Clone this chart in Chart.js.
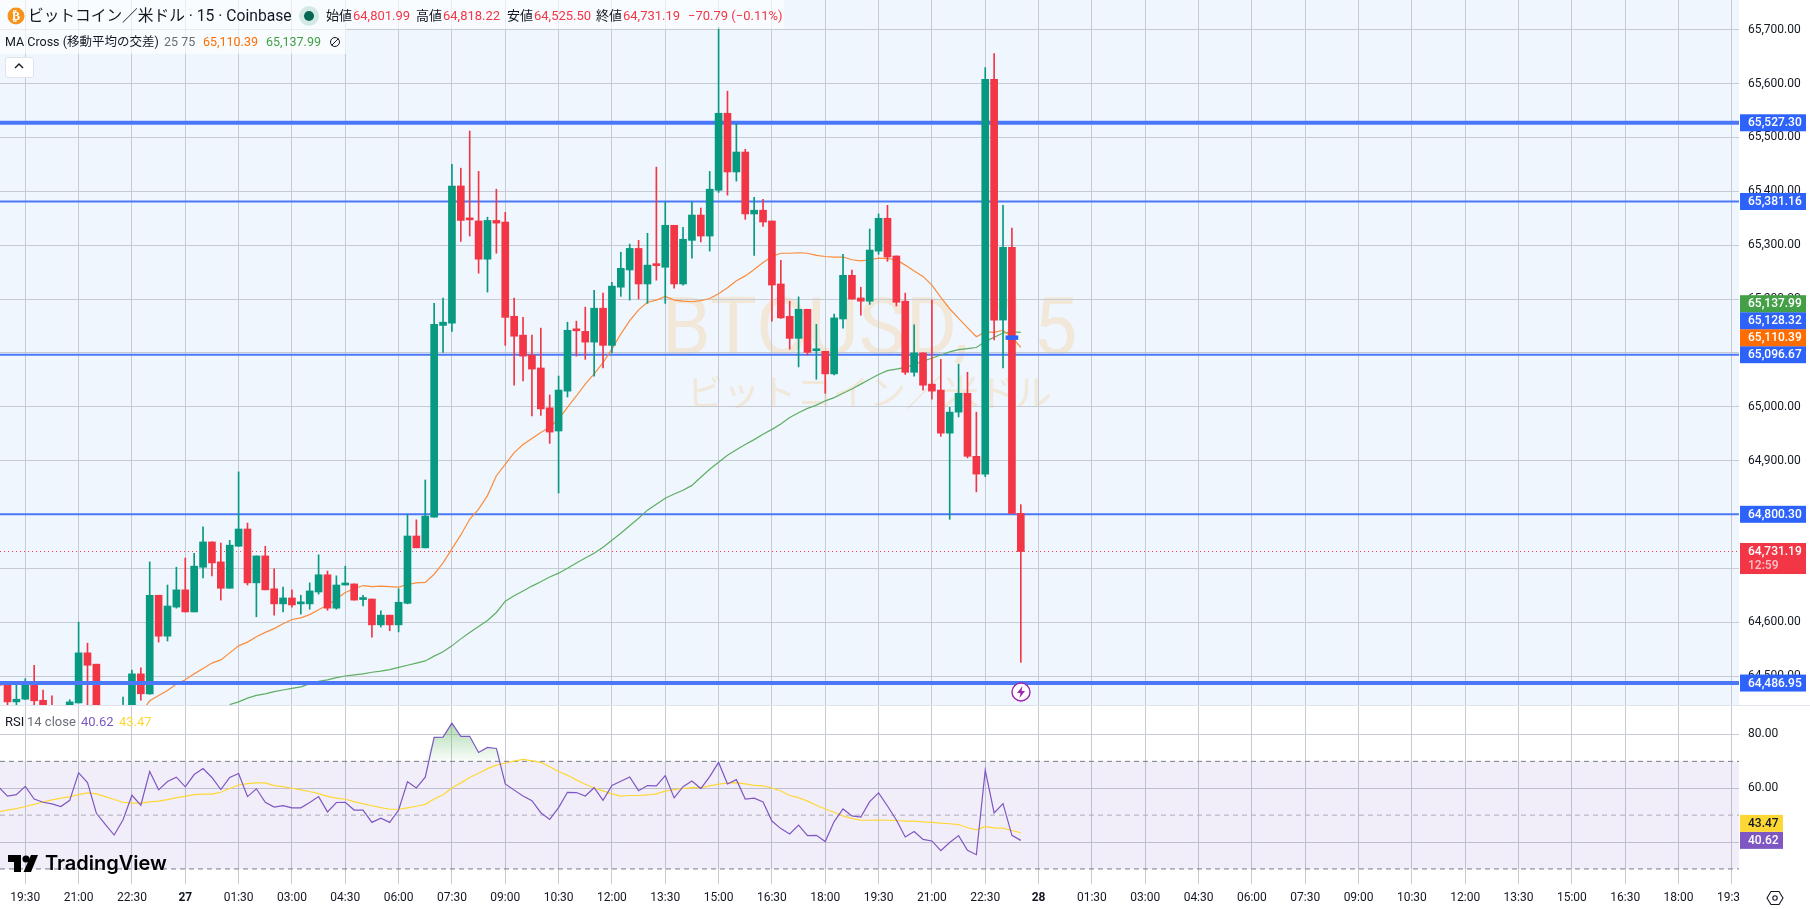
<!DOCTYPE html>
<html>
<head>
<meta charset="utf-8">
<title>BTCUSD 15</title>
<script src="https://cdn.jsdelivr.net/npm/chart.js@4"></script>
<style>
html, body { margin: 0; padding: 0; background: #fff; width: 1810px; height: 909px; overflow: hidden; }
body { font-family: Roboto, "Noto Sans CJK JP", sans-serif; color: #131722; position: relative; }
div, span, svg, canvas { position: absolute; }
span { white-space: nowrap; }
#pane { left: 0; top: 0; width: 1739px; height: 705px; background: #eff6fe; overflow: hidden; }
#wm1 { left: 0; width: 1739px; top: 278px; text-align: center; font-size: 79px; line-height: 98px; color: #f1e8da; }
#wm2 { left: 0; width: 1739px; top: 371px; text-align: center; font-size: 36.5px; line-height: 46px; color: #f1e8da; }
#mainChart { left: 0; top: 0; }
#rsiChart { left: 0; top: 705px; }
#sep { left: 0; top: 705px; width: 1810px; height: 1px; background: #e0e3eb; }
.legendBg { background: rgba(255,255,255,0.62); }
.row1 { font-size: 13px; line-height: 16px; top: 8px; }
.row2 { font-size: 12.5px; line-height: 16px; top: 34px; }
.red { color: #f23645; }
#rsiLegend span { font-size: 13px; line-height: 16px; top: 714px; }
#corner { left: 1739px; top: 885px; width: 71px; height: 24px; background: #fff; }
</style>
</head>
<body>
<div id="pane">
  <div id="wm1">BTCUSD, 15</div>
  <div id="wm2">ビットコイン／米ドル</div>
</div>
<canvas id="mainChart" width="1810" height="705"></canvas>
<canvas id="rsiChart" width="1810" height="204"></canvas>
<div id="sep"></div>

<div class="legendBg" style="left:0;top:0;width:784px;height:29px"></div>
<div class="legendBg" style="left:0;top:29px;width:346px;height:25px"></div>
<svg style="left:7px;top:7px" width="18" height="18" viewBox="0 0 18 18"><circle cx="9" cy="9" r="8.5" fill="#f7931a"/><text x="9" y="13" font-size="12" font-weight="700" fill="#fff" text-anchor="middle" font-family="DejaVu Sans">₿</text></svg>
<span style="left:28px;top:6px;font-size:15.7px;line-height:20px">ビットコイン／米ドル · 15 · Coinbase</span>
<svg style="left:299px;top:6px" width="20" height="20"><circle cx="10" cy="10" r="10" fill="#d3e9e5"/><circle cx="10" cy="10" r="5" fill="#056656"/></svg>
<span class="row1" style="left:326px">始値</span><span class="row1 red" style="left:353px">64,801.99</span>
<span class="row1" style="left:416px">高値</span><span class="row1 red" style="left:443px">64,818.22</span>
<span class="row1" style="left:507px">安値</span><span class="row1 red" style="left:534px">64,525.50</span>
<span class="row1" style="left:596px">終値</span><span class="row1 red" style="left:623px">64,731.19</span>
<span class="row1 red" style="left:688px">−70.79 (−0.11%)</span>
<span class="row2" style="left:5px">MA Cross (移動平均の交差)</span>
<span class="row2" style="left:164px;color:#6a6d78">25 75</span>
<span class="row2" style="left:203px;color:#ff6d00">65,110.39</span>
<span class="row2" style="left:266px;color:#43a047">65,137.99</span>
<svg style="left:329px;top:36px" width="12" height="12"><circle cx="6" cy="6" r="4.5" fill="none" stroke="#131722"/><line x1="2.5" y1="9.5" x2="9.5" y2="2.5" stroke="#131722"/></svg>
<div style="left:5px;top:57px;width:27px;height:19px;background:#fff;border:1px solid #e0e3eb;border-radius:3px"></div>
<svg style="left:14px;top:62px" width="10" height="8"><polyline points="1,6 5,2 9,6" fill="none" stroke="#131722" stroke-width="1.4"/></svg>

<svg style="left:1011px;top:682px" width="20" height="20" viewBox="0 0 20 20"><circle cx="10" cy="10" r="9" fill="#fff" stroke="#9c27b0" stroke-width="1.4"/><polygon points="11.5,4 6,11 9.5,11 8.5,16 14,9 10.5,9" fill="#9c27b0"/></svg>

<div id="rsiLegend">
  <span style="left:5px">RSI</span>
  <span style="left:27px;color:#6a6d78">14 close</span>
  <span style="left:81px;color:#7e57c2">40.62</span>
  <span style="left:119px;color:#fdd835">43.47</span>
</div>

<svg style="left:8px;top:855px" width="30" height="17" viewBox="0 0 30 17"><path d="M0 0H13V17H6V7H0Z" fill="#000"/><circle cx="18" cy="4" r="3.6" fill="#000"/><path d="M23 0H30L23 17H15.5Z" fill="#000"/></svg>
<span style="left:45px;top:850px;font-family:Inter,Roboto,sans-serif;font-weight:600;font-size:20px;line-height:26px;color:#000">TradingView</span>

<div id="corner"></div>
<svg style="left:1766px;top:889px" width="18" height="18" viewBox="0 0 18 18"><polygon points="5,2.5 13,2.5 17,9 13,15.5 5,15.5 1,9" fill="none" stroke="#131722" stroke-width="1.1"/><circle cx="9" cy="9" r="2.2" fill="none" stroke="#131722" stroke-width="1.1"/></svg>

<script>
// candles, first entry sits half off the left edge
const opens = [64486,
  64483,64452,64457,64487,64455,64430,64410,64420,64450,
  64543,64522,64425,64410,64420,64440,64504,64467,64650,64574,
  64628,64660,64619,64702,64749,64712,64663,64741,64773,64673,
  64723,64662,64634,64645,64634,64634,64656,64688,64626,64669,
  64671,64642,64643,64595,64613,64595,64635,64760,64738,64795,
  65151,65155,65410,65348,65345,65274,65346,65343,65168,65133,
  65096,65072,64998,64955,65029,65142,65140,65120,65183,65114,
  65222,65254,65294,65228,65263,65259,65337,65228,65309,65356,
  65317,65402,65545,65436,65473,65358,65365,65345,65228,65168,
  65127,65181,65104,65103,65061,65163,65244,65202,65196,65289,
  65350,65280,65196,65064,65100,65042,65031,64951,64990,65025,
  64908,64875,65608,65161,65296,64801.99]
const closes = [64483,
  64452,64457,64487,64454,64430,64410,64405,64452,64543,
  64520,64425,64410,64420,64440,64504,64467,64650,64574,64630,
  64660,64619,64704,64749,64710,64663,64743,64773,64673,64723,
  64660,64634,64645,64632,64635,64658,64688,64626,64669,64671,
  64641,64643,64595,64613,64595,64637,64760,64738,64797,65153,
  65157,65410,65346,65347,65274,65346,65341,65166,65131,65094,
  65070,64996,64953,65031,65142,65141,65120,65183,65114,65224,
  65257,65294,65228,65263,65262,65337,65228,65311,65356,65317,
  65404,65545,65436,65473,65358,65365,65343,65226,65165,65127,
  65181,65101,65105,65061,65165,65244,65200,65196,65291,65350,
  65278,65194,65064,65100,65040,65029,64951,64990,65025,64908,
  64875,65608,65161,65296,64802,64731.19]
const highs = [64490,
  64486,64485,64495,64520,64474,64463,64430,64456,64600,
  64561,64522,64435,64430,64461,64511,64515,64712,64650,64669,
  64702,64719,64728,64777,64749,64747,64752,64879,64784,64723,
  64741,64699,64665,64660,64650,64673,64725,64695,64686,64704,
  64671,64650,64643,64621,64613,64662,64799,64790,64864,65192,
  65202,65450,65443,65512,65437,65352,65404,65361,65202,65166,
  65133,65146,65022,65057,65157,65159,65185,65216,65211,65231,
  65287,65302,65309,65322,65445,65380,65337,65333,65380,65369,
  65437,65704,65586,65526,65478,65389,65385,65345,65272,65196,
  65204,65181,65153,65103,65172,65283,65254,65222,65330,65358,
  65374,65280,65211,65152,65100,65198,65088,64999,65079,65064,
  64990,65630,65656,65374,65332,64818.22]
const lows = [64470,
  64440,64440,64456,64440,64420,64400,64395,64410,64450,
  64440,64420,64400,64400,64410,64435,64455,64466,64563,64565,
  64626,64619,64619,64682,64686,64641,64663,64741,64669,64610,
  64660,64613,64619,64628,64615,64624,64652,64622,64624,64669,
  64641,64630,64572,64591,64584,64582,64634,64738,64738,64795,
  65101,65140,65307,65317,65248,65213,65285,65114,65040,65048,
  64983,64984,64932,64840,65018,65094,65088,65057,65072,65100,
  65205,65198,65200,65192,65235,65192,65220,65226,65276,65306,
  65289,65398,65393,65419,65348,65281,65335,65159,65164,65107,
  65074,65096,65051,65025,65059,65146,65200,65170,65190,65283,
  65270,65187,65060,65057,65031,65014,64945,64791,64981,64905,
  64842,64870,65124,65072,64802,64525.5]

// moving averages, they begin further along the candles
const ma25Start = 16
const ma25 = [64431,
  64454,64464,64473,64485,64493,64504,64514,64524,64530,64543,
  64556,64563,64573,64581,64588,64597,64605,64608,64614,64623,
  64632,64643,64655,64662,64668,64666,64667,64666,64665,64670,
  64673,64674,64689,64710,64736,64762,64791,64810,64835,64872,
  64893,64915,64930,64941,64952,64962,64977,64999,65020,65042,
  65061,65082,65107,65135,65160,65180,65194,65198,65205,65198,
  65196,65195,65197,65201,65210,65221,65234,65243,65255,65268,
  65279,65285,65285,65286,65285,65281,65279,65278,65278,65273,
  65271,65273,65276,65275,65273,65263,65252,65242,65226,65203,
  65182,65164,65147,65130,65139,65138,65142,65129,65110.39]
const ma75Start = 26
const ma75 = [64447,
  64452,64459,64464,64467,64471,64474,64477,64480,64486,64490,
  64493,64497,64500,64502,64504,64507,64509,64512,64516,64520,
  64524,64528,64537,64545,64556,64569,64581,64592,64603,64618,
  64639,64649,64658,64667,64675,64684,64691,64700,64710,64719,
  64728,64739,64752,64765,64779,64793,64808,64819,64830,64838,
  64845,64854,64869,64884,64897,64910,64920,64930,64939,64949,
  64958,64968,64980,64989,64997,65003,65011,65017,65025,65033,
  65042,65051,65060,65067,65070,65073,65078,65085,65090,65096,
  65102,65106,65108,65110,65121,65129,65137,65139,65137.99]

// RSI pane, one value per candle
const rsi = [60.5,
  57.1,57.6,60.7,56.0,54.8,54.2,53.2,55.5,65.7,62.1,
  50.7,46.6,42.6,48.3,57.4,53.7,66.2,59.4,62.5,64.1,
  60.5,65.1,67.3,64.0,59.5,64.0,65.5,56.9,59.8,54.8,
  53.0,53.5,52.7,52.7,54.7,56.9,51.2,54.7,54.8,51.9,
  51.9,47.3,48.9,47.3,51.9,62.4,60.1,64.1,78.9,79.0,
  84.2,79.3,79.3,73.3,75.2,74.8,61.6,59.3,57.1,55.4,
  50.9,48.4,52.8,58.5,58.4,57.1,60.2,55.5,61.0,62.6,
  64.2,59.1,61.0,60.9,64.7,56.4,60.6,62.7,59.9,64.3,
  69.6,61.6,63.2,56.0,56.3,54.9,47.8,45.0,43.0,46.3,
  42.4,42.5,40.2,47.6,52.3,49.7,49.3,55.0,58.3,53.4,
  48.2,41.9,43.9,41.0,40.4,36.8,39.8,42.4,36.9,35.3,
  66.7,50.8,54.3,42.5,40.62]
const rsiMa = [51.2,
  51.9,52.4,53.2,54.0,54.9,55.7,56.3,56.8,57.6,58.3,
  57.9,56.9,55.8,54.8,54.5,54.5,54.9,55.2,55.8,56.5,
  57.0,57.6,57.8,57.8,58.5,59.9,61.2,61.7,62.0,62.0,
  61.0,60.6,60.0,59.4,58.8,58.0,57.0,56.3,55.9,55.0,
  54.2,53.5,52.8,52.2,52.2,52.7,53.3,54.0,56.0,57.6,
  60.1,62.0,64.0,65.6,67.3,68.6,69.3,70.1,70.7,70.2,
  69.6,68.0,66.2,64.8,63.1,61.5,60.1,59.0,57.9,57.1,
  57.3,57.3,57.5,57.9,58.9,59.5,59.9,60.2,60.2,60.9,
  61.5,61.9,62.1,61.6,61.1,60.9,60.1,59.0,57.3,56.5,
  55.2,53.7,52.3,51.1,49.7,48.8,48.1,48.1,48.2,48.1,
  48.0,47.8,47.8,47.5,47.3,47.0,46.8,46.5,45.3,44.5,
  45.7,45.3,45.2,44.3,43.47]

// drawn levels and axis tags
const thickLevels = [65527.30, 64486.95]
const thinLevels = [65381.16, 65096.67, 64800.30]
const lastPrice = 64731.19
const positionLine = 65128.32
const countdown = "12:59"
const priceTicks = [64500,64600,64700,64800,64900,65000,65100,65200,65300,65400,65500,65600,65700]
const priceTags = [64486.95, 64731.19, 64800.30, 65096.67, 65110.39, 65128.32, 65137.99, 65381.16, 65527.30]
const priceTagColors = ["#2e63fb", "#f23645", "#2e63fb", "#2e63fb", "#ff6d00", "#2e63fb", "#43a047", "#2e63fb", "#2e63fb"]
const rsiTicks = [40, 60, 80]
const rsiTags = [40.62, 43.47]
const rsiTagColors = ["#7e57c2", "#fdd835"]
const rsiTagText = ["#fff", "#131722"]

const timeLabels = ["19:30","21:00","22:30","27","01:30","03:00","04:30","06:00","07:30","09:00","10:30",
  "12:00","13:30","15:00","16:30","18:00","19:30","21:00","22:30","28","01:30","03:00","04:30","06:00",
  "07:30","09:00","10:30","12:00","13:30","15:00","16:30","18:00","19:30"]
const timeTicks = timeLabels.map((_, i) => 3 + 6 * i)

const xMin = 0.156
const xMax = 195.8
const GRID = "#c6cad3"
const GREEN = "#089981"
const RED = "#f23645"
const BLUE = "#4b78f9"
const FONT = "Roboto, 'Noto Sans CJK JP', sans-serif"

const candleColors = closes.map((c, i) => c >= opens[i] ? GREEN : RED)
const flatLine = v => [{x: xMin, y: v}, {x: xMax, y: v}]
const seriesPoints = (arr, start) => arr.map((v, i) => ({x: i + start, y: v}))

const lineSet = (data, color, width, order, extra) => Object.assign({
    type: "line", data: data, borderColor: color, borderWidth: width,
    pointRadius: 0, tension: 0, fill: false, order: order
}, extra)

const levelSets = []
thickLevels.forEach((v, i) => levelSets.push(lineSet(flatLine(v), BLUE, 4, i == 1 ? 1 : 6)))
thinLevels.forEach(v => levelSets.push(lineSet(flatLine(v), BLUE, 2, 6)))

// tick labels would otherwise push the plot area in from the canvas edges
const noPadding = axis => {
    axis.paddingTop = 0
    axis.paddingBottom = 0
    axis.paddingLeft = 0
    axis.paddingRight = 0
}

// x axis shared by both panes
const timeAxis = showLabels => ({
    type: "linear",
    offset: false,
    min: xMin,
    max: xMax,
    grid: { color: GRID, drawTicks: false, offset: false },
    border: { display: false },
    afterBuildTicks: axis => { axis.ticks = timeTicks.map(v => ({value: v})) },
    afterFit: axis => { axis.height = showLabels ? 25 : 0; noPadding(axis) },
    ticks: {
        display: showLabels,
        autoSkip: false,
        maxRotation: 0,
        padding: 7,
        color: "#131722",
        font: ctx => ({family: FONT, size: 12, weight: ctx.tick && /^\d\d$/.test(ctx.tick.label) ? "bold" : "normal"}),
        callback: v => timeLabels[(v - 3) / 6]
    }
})

const valueAxis = (min, max, tickList, format) => ({
    position: "right",
    min: min,
    max: max,
    afterBuildTicks: axis => { axis.ticks = tickList.map(v => ({value: v})) },
    afterFit: axis => { axis.width = 71; noPadding(axis) },
    grid: { color: GRID, drawTicks: false },
    border: { display: false },
    ticks: {
        padding: 9,
        color: "#131722",
        font: { family: FONT, size: 12 },
        callback: format
    }
})

const priceText = v => v.toLocaleString("en-US", {minimumFractionDigits: 2})

// coloured tags on the price axis, pushed up when they would overlap
const axisTags = {
    id: "axisTags",
    afterDraw(chart, args, opts) {
        const ctx = chart.ctx
        const y = chart.scales.y
        const left = chart.chartArea.right + 1
        let prev = Infinity
        ctx.save()
        ctx.font = "500 12px " + FONT
        ctx.textBaseline = "middle"
        opts.values.forEach((v, i) => {
            let py = y.getPixelForValue(v)
            if (py > prev - 17) py = prev - 17
            prev = py
            const big = v === lastPrice
            ctx.fillStyle = opts.colors[i]
            ctx.fillRect(left, py - 8.5, opts.width, big ? 31 : 17)
            ctx.fillStyle = opts.text ? opts.text[i] : "#fff"
            ctx.textAlign = "left"
            ctx.fillText(opts.format(v), left + 8, py + 0.5)
            if (big) {
                ctx.fillStyle = "#fbc2c7"
                ctx.fillText(countdown, left + 8, py + 14.5)
            }
        })
        ctx.restore()
    }
}

new Chart(document.getElementById("mainChart"), {
    type: "bar",
    plugins: [axisTags],
    data: {
        datasets: [
            {
                data: [{x: 114, y: [positionLine - 3.5, positionLine + 3.5]}],
                backgroundColor: "#2e63fb", barThickness: 12, order: 0
            },
            {
                data: opens.map((o, i) => ({x: i, y: [o, closes[i]]})),
                backgroundColor: candleColors, barThickness: 7, minBarLength: 2, order: 2
            },
            {
                data: highs.map((h, i) => ({x: i, y: [lows[i], h]})),
                backgroundColor: candleColors, barThickness: 1, order: 3
            },
            lineSet(seriesPoints(ma25, ma25Start), "#fb8c3c", 1.2, 4),
            lineSet(seriesPoints(ma75, ma75Start), "#5fae63", 1.2, 5),
            lineSet(flatLine(lastPrice), RED, 1, 7, {borderDash: [1, 3]}),
            ...levelSets
        ]
    },
    options: {
        responsive: false,
        animation: false,
        layout: { padding: 0 },
        events: [],
        datasets: { bar: { grouped: false } },
        plugins: {
            legend: { display: false },
            tooltip: { enabled: false },
            axisTags: { values: priceTags, colors: priceTagColors, width: 66, format: priceText }
        },
        scales: {
            x: timeAxis(false),
            y: valueAxis(64446.2, 65755.3, priceTicks, priceText)
        }
    }
})

// green wash where RSI runs above 70
const rsiCtx = document.getElementById("rsiChart").getContext("2d")
const overbought = rsiCtx.createLinearGradient(0, 18, 0, 57)
overbought.addColorStop(0, "rgba(76,175,80,0.45)")
overbought.addColorStop(1, "rgba(76,175,80,0.02)")

new Chart(rsiCtx, {
    type: "line",
    plugins: [axisTags],
    data: {
        datasets: [
            lineSet(seriesPoints(rsi, 0), "#7e57c2", 1.2, 1),
            lineSet(seriesPoints(rsiMa, 0), "#fdd835", 1.2, 2),
            lineSet(rsi.map((v, i) => ({x: i, y: Math.max(v, 70)})), "rgba(0,0,0,0)", 0, 3, {
                fill: {value: 70}, backgroundColor: overbought
            }),
            lineSet(flatLine(70), "#787b86", 1, 4, {
                borderDash: [5, 4],
                fill: {value: 30}, backgroundColor: "rgba(126,87,194,0.1)"
            }),
            lineSet(flatLine(50), "#b2b3ba", 1, 4, {borderDash: [5, 4]}),
            lineSet(flatLine(30), "#787b86", 1, 4, {borderDash: [5, 4]})
        ]
    },
    options: {
        responsive: false,
        animation: false,
        layout: { padding: 0 },
        events: [],
        plugins: {
            legend: { display: false },
            tooltip: { enabled: false },
            axisTags: { values: rsiTags, colors: rsiTagColors, text: rsiTagText, width: 43, format: v => v.toFixed(2) }
        },
        scales: {
            x: timeAxis(true),
            y: valueAxis(24.4, 90.95, rsiTicks, v => v.toFixed(2))
        }
    }
})
</script>
</body>
</html>
